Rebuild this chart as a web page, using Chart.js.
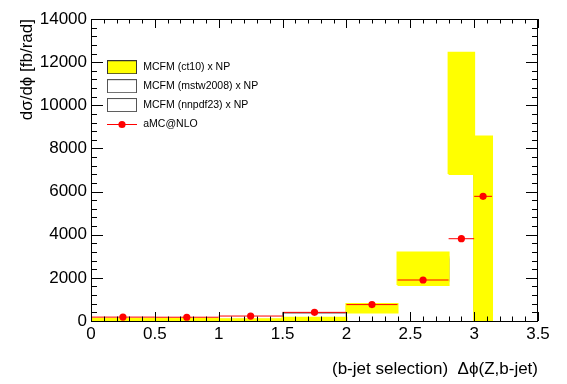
<!DOCTYPE html>
<html>
<head>
<meta charset="utf-8">
<script src="https://cdn.jsdelivr.net/npm/chart.js@4"></script>
<style>
  html, body { margin: 0; background: #fff; }
  #wrap { width: 567px; height: 384px; }
</style>
</head>
<body>
<div id="wrap"><canvas id="chart"></canvas></div>
<script>
// bin edges in delta phi (last bin ends at pi)
const binEdges = [0, 0.5, 1, 1.5, 2, 2.4, 2.8, 3.0, 3.14];

// MCFM x NP bands, one value per bin
const ct10Lo  = [30, 30, 20, 50, 390, 1670, 6810, 0];
const ct10Hi  = [110, 110, 85, 150, 790, 3170, 12440, 8550];
const mstwLo  = [40, 40, 30, 80, 430, 1800, 7200, 300];
const mstwHi  = [100, 100, 75, 385, 720, 3000, 11800, 8000];
const nnpdfLo = [45, 45, 35, 95, 450, 1850, 7400, 500];
const nnpdfHi = [95, 95, 70, 370, 700, 2900, 11500, 7800];

// aMC@NLO points
const amcX = [0.25, 0.75, 1.25, 1.75, 2.2, 2.6, 2.9, 3.07];
const amcY = [180, 175, 230, 400, 760, 1900, 3815, 5780];

const legendNames = ['MCFM (ct10) x NP', 'MCFM (mstw2008) x NP', 'MCFM (nnpdf23) x NP', 'aMC@NLO'];

const FONT = "'Liberation Sans', Arial, Helvetica, sans-serif";

// histogram helpers
const steps = vals => binEdges.map((x, i) => ({ x, y: vals[Math.min(i, vals.length - 1)] }));
const boxes = (lo, hi) => lo.flatMap((l, i) => [
    { x: binEdges[i], y: l }, { x: binEdges[i], y: hi[i] },
    { x: binEdges[i + 1], y: hi[i] }, { x: binEdges[i + 1], y: l },
    { x: binEdges[i], y: l }, { x: binEdges[i], y: null }
]);
const xErrors = amcY.flatMap((v, i) => [
    { x: binEdges[i], y: v }, { x: binEdges[i + 1], y: v }, { x: binEdges[i + 1], y: null }
]);

// legend symbols
function symbol(fill, stroke) {
    const c = document.createElement('canvas');
    c.width = 32; c.height = 14;
    const g = c.getContext('2d');
    g.fillStyle = fill;
    g.fillRect(1, 0.5, 30, 13);
    g.strokeStyle = stroke;
    g.lineWidth = 1;
    g.strokeRect(1.5, 0.5, 29, 13);
    return c;
}
function markerSymbol() {
    const c = document.createElement('canvas');
    c.width = 32; c.height = 14;
    const g = c.getContext('2d');
    g.strokeStyle = '#ff0000';
    g.beginPath(); g.moveTo(1, 7.5); g.lineTo(31, 7.5); g.stroke();
    g.fillStyle = '#ff0000';
    g.beginPath(); g.arc(16, 7.5, 3.6, 0, Math.PI * 2); g.fill();
    return c;
}
const legendSymbols = [symbol('#ffff00', '#333'), symbol('#fff', '#555'), symbol('#fff', '#555'), markerSymbol()];

// ROOT style frame with inward ticks
const frame = {
    id: 'frame',
    afterDatasetsDraw(chart) {
        const { ctx, chartArea: a, scales: { x, y } } = chart;
        ctx.save();
        ctx.strokeStyle = '#000';
        ctx.lineWidth = 1;
        ctx.strokeRect(a.left + 0.5, a.top + 0.5, a.right - a.left - 1, a.bottom - a.top);
        ctx.beginPath();
        for (let i = 0; i <= 35; i++) {
            const px = Math.round(x.getPixelForValue(i / 10)) + 0.5;
            const len = i % 5 === 0 ? 9 : 4.5;
            ctx.moveTo(px, a.bottom); ctx.lineTo(px, a.bottom - len);
            ctx.moveTo(px, a.top); ctx.lineTo(px, a.top + len);
        }
        for (let i = 0; i <= 35; i++) {
            const py = Math.round(y.getPixelForValue(i * 400)) + 0.5;
            const len = i % 5 === 0 ? 12 : 6;
            ctx.moveTo(a.left, py); ctx.lineTo(a.left + len, py);
            ctx.moveTo(a.right, py); ctx.lineTo(a.right - len, py);
        }
        ctx.stroke();
        ctx.restore();
    }
};

// move the in-frame legend a little away from the corner
const legendOffset = {
    id: 'legendOffset',
    afterLayout(chart) {
        chart.legend.left += 6.6;
        chart.legend.top += 53.6;
    }
};

new Chart(document.getElementById('chart'), {
    type: 'line',
    data: {
        datasets: [
            {
                label: 'aMC@NLO',
                data: amcX.map((x, i) => ({ x, y: amcY[i] })),
                showLine: false,
                pointRadius: 3.6,
                pointBackgroundColor: '#ff0000',
                pointBorderWidth: 0
            },
            {
                label: 'aMC@NLO x',
                data: xErrors,
                borderColor: '#ff0000',
                borderWidth: 1,
                pointRadius: 0,
                spanGaps: false
            },
            {
                label: 'ct10 edge',
                data: boxes(ct10Lo, ct10Hi),
                borderColor: '#ffff00',
                borderWidth: 2,
                pointRadius: 0,
                spanGaps: false
            },
            {
                label: 'ct10 hi',
                data: steps(ct10Hi),
                stepped: 'before',
                borderWidth: 0,
                borderColor: 'rgba(0,0,0,0)',
                pointRadius: 0
            },
            {
                label: 'ct10 lo',
                data: steps(ct10Lo),
                stepped: 'before',
                borderWidth: 0,
                borderColor: 'rgba(0,0,0,0)',
                backgroundColor: '#ffff00',
                fill: '-1',
                pointRadius: 0
            },
            {
                label: 'mstw2008',
                data: boxes(mstwLo, mstwHi),
                borderColor: '#777',
                borderWidth: 1,
                pointRadius: 0,
                spanGaps: false
            },
            {
                label: 'nnpdf23',
                data: boxes(nnpdfLo, nnpdfHi),
                borderColor: '#777',
                borderWidth: 1,
                pointRadius: 0,
                spanGaps: false
            }
        ]
    },
    options: {
        responsive: true,
        maintainAspectRatio: false,
        devicePixelRatio: 1,
        animation: false,
        layout: { padding: { top: 19, right: 29, left: 0, bottom: 0 } },
        scales: {
            x: {
                type: 'linear',
                min: 0,
                max: 3.5,
                grid: { display: false, drawTicks: false },
                border: { display: false },
                ticks: {
                    stepSize: 0.5,
                    padding: 3,
                    color: '#000',
                    font: { family: FONT, size: 17 },
                    callback: v => String(v)
                },
                title: {
                    display: true,
                    align: 'end',
                    text: '(b-jet selection)  \u0394\u03d5(Z,b-jet)',
                    color: '#000',
                    font: { family: FONT, size: 17 },
                    padding: { top: 0, bottom: 4 }
                },
                afterFit: s => { s.height = 63; }
            },
            y: {
                min: 0,
                max: 14000,
                grid: { display: false, drawTicks: false },
                border: { display: false },
                ticks: {
                    stepSize: 2000,
                    padding: 4,
                    color: '#000',
                    font: { family: FONT, size: 17 },
                    callback: v => String(v)
                },
                title: {
                    display: true,
                    align: 'end',
                    text: 'd\u03c3/d\u03d5 [fb/rad]',
                    color: '#000',
                    font: { family: FONT, size: 17 },
                    padding: { top: 17, bottom: 0 }
                },
                afterFit: s => { s.width = 91; }
            }
        },
        plugins: {
            legend: {
                position: 'chartArea',
                align: 'start',
                onClick: null,
                labels: {
                    usePointStyle: true,
                    pointStyleWidth: 32,
                    padding: 8.4,
                    color: '#000',
                    font: { family: FONT, size: 10.5 },
                    generateLabels: () => legendNames.map((text, i) => ({
                        text,
                        pointStyle: legendSymbols[i],
                        fillStyle: '#fff',
                        strokeStyle: '#000',
                        lineWidth: 0,
                        hidden: false
                    }))
                }
            },
            tooltip: { enabled: false }
        }
    },
    plugins: [frame, legendOffset]
});
</script>
</body>
</html>
